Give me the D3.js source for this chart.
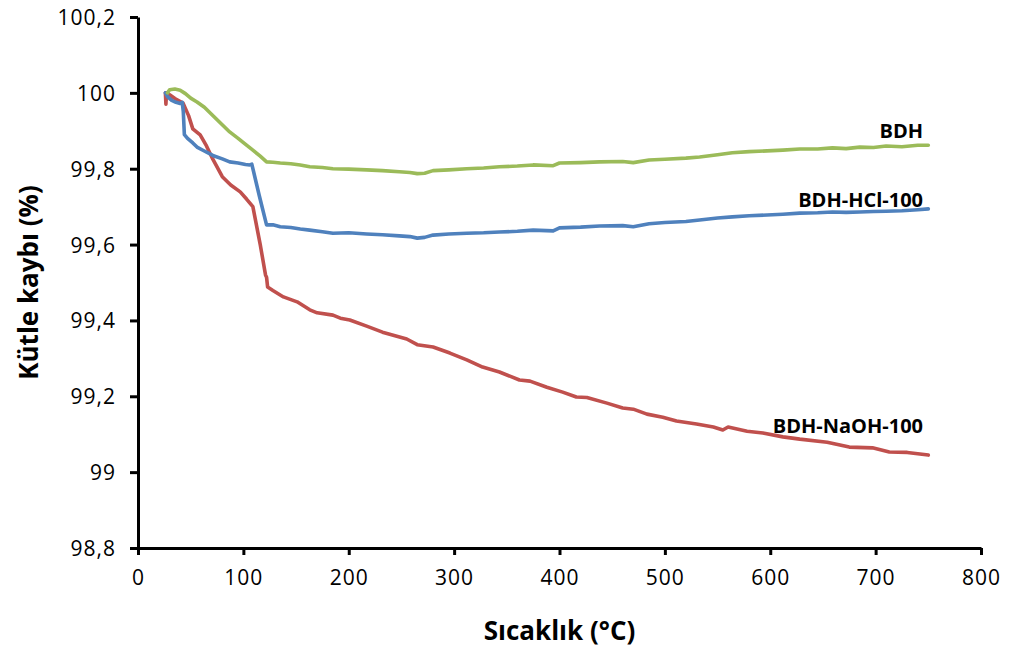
<!DOCTYPE html>
<html>
<head>
<meta charset="utf-8">
<script src="https://cdn.jsdelivr.net/npm/d3@7"></script>
<style>
  html, body { margin: 0; padding: 0; background: #fff; }
  svg { display: block; font-family: "Open Sans", "Noto Sans", sans-serif; }
</style>
</head>
<body>
<svg id="chart" width="1009" height="652"></svg>
<script>
// Thermogravimetric curves: temperature (°C) vs remaining mass (%)
const seriesNames = ["BDH", "BDH-HCl-100", "BDH-NaOH-100"];
const seriesColors = ["#9BBB59", "#4F81BD", "#C0504D"];

const bdh = [
  [28,100.0],[30,100.008],[35,100.01],[40,100.007],[45,99.998],[50,99.986],[56,99.976],
  [63,99.962],[70,99.943],[78,99.921],[87,99.897],[95,99.88],[103,99.862],[109,99.849],
  [116,99.833],[122,99.818],[128,99.817],[135,99.815],[145,99.813],[154,99.81],[163,99.805],
  [175,99.803],[185,99.8],[200,99.799],[217,99.797],[232,99.795],[248,99.792],[258,99.79],
  [265,99.787],[272,99.788],[280,99.795],[295,99.797],[312,99.8],[328,99.802],[343,99.805],
  [360,99.807],[375,99.81],[394,99.808],[400,99.815],[420,99.816],[438,99.818],[460,99.819],
  [470,99.816],[485,99.823],[500,99.825],[520,99.828],[533,99.831],[550,99.837],[564,99.842],
  [580,99.845],[597,99.847],[612,99.849],[628,99.852],[645,99.852],[659,99.855],[672,99.853],
  [685,99.857],[698,99.856],[710,99.86],[725,99.858],[740,99.862],[750,99.862]
];

const bdhHcl = [
  [26,100.0],[28,99.99],[32,99.98],[36,99.975],[40,99.972],[42,99.975],[43,99.95],[44,99.89],
  [47,99.88],[52,99.868],[56,99.857],[62,99.848],[71,99.835],[80,99.826],[87,99.818],
  [95,99.815],[102,99.811],[106,99.81],[108,99.812],[115,99.73],[122,99.652],[128,99.652],
  [135,99.647],[145,99.645],[154,99.641],[163,99.638],[175,99.634],[185,99.63],[200,99.631],
  [217,99.628],[232,99.626],[248,99.623],[258,99.621],[265,99.617],[272,99.619],[280,99.625],
  [295,99.628],[312,99.63],[328,99.631],[343,99.633],[360,99.635],[375,99.638],[394,99.636],
  [400,99.644],[420,99.646],[438,99.649],[460,99.65],[470,99.647],[485,99.655],[500,99.658],
  [520,99.661],[533,99.665],[550,99.67],[564,99.673],[580,99.676],[597,99.678],[612,99.68],
  [628,99.683],[645,99.684],[659,99.686],[672,99.685],[685,99.686],[698,99.687],[710,99.688],
  [725,99.689],[740,99.692],[750,99.694]
];

const bdhNaoh = [
  [26,100.0],[26.5,99.97],[27,100.0],[30,99.995],[35,99.985],[42.7,99.973],[48,99.94],
  [52,99.905],[59,99.889],[65,99.86],[71,99.825],[80,99.779],[88,99.757],[97,99.739],
  [103,99.72],[109,99.7],[116,99.6],[121,99.52],[122,99.514],[123,99.488],[128,99.479],
  [138,99.462],[151,99.449],[163,99.428],[170,99.42],[185,99.414],[192,99.406],[201,99.401],
  [217,99.385],[232,99.369],[255,99.351],[265,99.336],[280,99.33],[296,99.314],[312,99.296],
  [327,99.277],[343,99.264],[362,99.243],[372,99.24],[388,99.224],[403,99.211],[416,99.198],
  [426,99.197],[445,99.182],[460,99.169],[470,99.166],[483,99.153],[498,99.145],[511,99.135],
  [530,99.127],[546,99.119],[555,99.111],[560,99.119],[578,99.108],[593,99.103],[612,99.093],
  [628,99.087],[654,99.079],[675,99.066],[697,99.064],[713,99.053],[730,99.052],[750,99.045]
];

const xTicks = [0, 100, 200, 300, 400, 500, 600, 700, 800];
const yTicks = [98.8, 99, 99.2, 99.4, 99.6, 99.8, 100, 100.2];
const yTickLabels = ["98,8", "99", "99,2", "99,4", "99,6", "99,8", "100", "100,2"];

// label anchors (temperature, mass) for the end-of-line series names
const labelAnchors = [[745, 99.882], [745, 99.70], [745, 99.103]];

const xTitle = "Sıcaklık (°C)";
const yTitle = "Kütle kaybı (%)";

const svg = d3.select("#chart");
const plot = { left: 138, right: 981, top: 17, bottom: 548 };

const x = d3.scaleLinear().domain([0, 800]).range([plot.left, plot.right]);
const y = d3.scaleLinear().domain([98.8, 100.2]).range([plot.bottom, plot.top]);

const line = d3.line().x(d => x(d[0])).y(d => y(d[1]));

const allSeries = [bdh, bdhHcl, bdhNaoh];

// draw NaOH first so green/blue sit on top where curves cross near the start
const order = [2, 1, 0];
order.forEach(i => {
  svg.append("path")
    .datum(allSeries[i])
    .attr("fill", "none")
    .attr("stroke", seriesColors[i])
    .attr("stroke-width", 3.6)
    .attr("stroke-linejoin", "round")
    .attr("stroke-linecap", "round")
    .attr("d", line);
});

// axes
const xAxis = svg.append("g")
  .attr("transform", `translate(0,${plot.bottom})`)
  .call(d3.axisBottom(x).tickValues(xTicks).tickSize(7).tickSizeOuter(0).tickPadding(15)
    .tickFormat(d3.format("d")));

const yAxis = svg.append("g")
  .attr("transform", `translate(${plot.left},0)`)
  .call(d3.axisLeft(y).tickValues(yTicks).tickSize(8).tickSizeOuter(0).tickPadding(14)
    .tickFormat((d, i) => yTickLabels[i]));

[xAxis, yAxis].forEach(g => {
  g.select(".domain").attr("stroke", "#000").attr("stroke-width", 3);
  g.selectAll(".tick line").attr("stroke", "#000").attr("stroke-width", 3);
  g.selectAll(".tick text")
    .attr("fill", "#000")
    .style("font-family", "'Open Sans', sans-serif")
    .style("font-size", "21px")
    .style("letter-spacing", "1px");
});
yAxis.selectAll(".tick text").attr("dy", "0.36em");

// series labels
seriesNames.forEach((name, i) => {
  svg.append("text")
    .attr("x", x(labelAnchors[i][0]))
    .attr("y", y(labelAnchors[i][1]))
    .attr("text-anchor", "end")
    .style("font-size", "20px")
    .style("font-weight", "bold")
    .attr("fill", "#000")
    .text(name);
});

// axis titles
svg.append("text")
  .attr("x", (plot.left + plot.right) / 2)
  .attr("y", 640)
  .attr("text-anchor", "middle")
  .style("font-size", "26px")
  .style("font-weight", "bold")
  .text(xTitle);

svg.append("text")
  .attr("transform", `translate(38,${(plot.top + plot.bottom) / 2}) rotate(-90)`)
  .attr("text-anchor", "middle")
  .style("font-size", "26px")
  .style("font-weight", "bold")
  .text(yTitle);
</script>
</body>
</html>
